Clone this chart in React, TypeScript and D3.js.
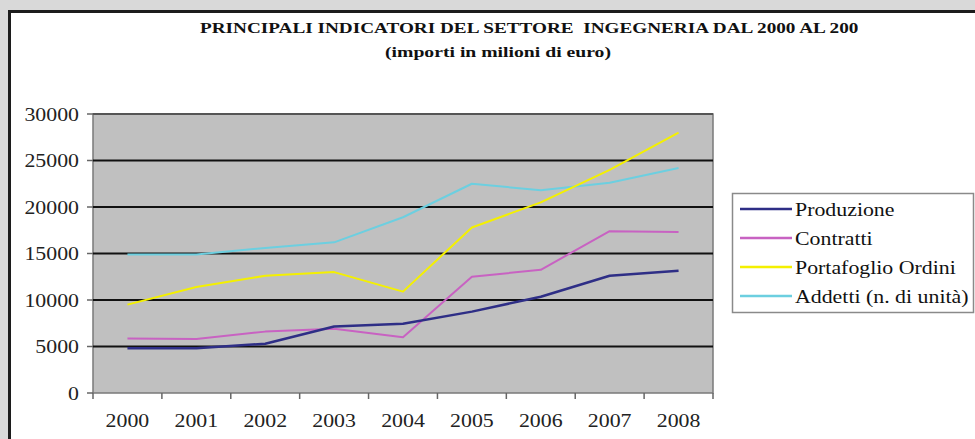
import React, { useEffect, useRef } from 'react';
import * as d3 from 'd3';

const years = ['2000', '2001', '2002', '2003', '2004', '2005', '2006', '2007', '2008'];
const produzione = [4800, 4800, 5300, 7150, 7450, 8750, 10350, 12600, 13150];
const contratti = [5850, 5800, 6600, 6900, 6000, 12500, 13250, 17400, 17300];
const portafoglio = [9500, 11400, 12600, 13000, 10900, 17800, 20500, 24000, 28000];
const addetti = [14900, 14900, 15600, 16200, 18900, 22500, 21800, 22600, 24200];
const yTicks = [0, 5000, 10000, 15000, 20000, 25000, 30000];
const seriesNames = ['Produzione', 'Contratti', 'Portafoglio Ordini', 'Addetti (n. di unità)'];
const seriesColors = ['#2e2e86', '#c862c2', '#f4f000', '#6ccfe0'];

const W = 975;
const H = 439;
const FONT = 'Liberation Serif, serif';

const App: React.FC = () => {
  const svgRef = useRef<SVGSVGElement>(null);

  useEffect(() => {
    if (!svgRef.current) return;
    document.body.style.margin = '0';

    const svg = d3.select(svgRef.current);
    svg.selectAll('*').remove();

    const plot = { left: 93, right: 713, top: 114, bottom: 393 };

    // Page background and white panel
    svg.append('rect').attr('width', W).attr('height', H).attr('fill', '#d9d9d9');
    svg.append('rect')
      .attr('x', 9.5).attr('y', 11.5)
      .attr('width', W + 20).attr('height', H + 20)
      .attr('fill', '#ffffff')
      .attr('stroke', '#1c1c1c')
      .attr('stroke-width', 3);

    // Title (clipped on the right like the original)
    svg.append('clipPath').attr('id', 'titleClip')
      .append('rect').attr('x', 0).attr('y', 0).attr('width', 858).attr('height', 45);

    svg.append('text')
      .attr('clip-path', 'url(#titleClip)')
      .attr('x', 200).attr('y', 33)
      .attr('textLength', 668)
      .attr('lengthAdjust', 'spacingAndGlyphs')
      .attr('font-family', FONT)
      .attr('font-size', 15)
      .attr('font-weight', 'bold')
      .attr('fill', '#111')
      .style('white-space', 'pre')
      .text('PRINCIPALI INDICATORI DEL SETTORE  INGEGNERIA DAL 2000 AL 2008');

    svg.append('text')
      .attr('x', 385).attr('y', 57)
      .attr('textLength', 226)
      .attr('lengthAdjust', 'spacingAndGlyphs')
      .attr('font-family', FONT)
      .attr('font-size', 15)
      .attr('font-weight', 'bold')
      .attr('fill', '#111')
      .text('(importi in milioni di euro)');

    const x = d3.scaleBand<string>()
      .domain(years)
      .range([plot.left, plot.right])
      .padding(0);

    const y = d3.scaleLinear()
      .domain([0, 30000])
      .range([plot.bottom, plot.top]);

    // Plot area
    svg.append('rect')
      .attr('x', plot.left).attr('y', plot.top)
      .attr('width', plot.right - plot.left)
      .attr('height', plot.bottom - plot.top)
      .attr('fill', '#c0c0c0')
      .attr('stroke', '#7a7a7a')
      .attr('stroke-width', 1.5);

    // Grid lines
    svg.append('g')
      .selectAll('line')
      .data(yTicks.filter(d => d > 0))
      .enter()
      .append('line')
      .attr('x1', plot.left)
      .attr('x2', plot.right)
      .attr('y1', d => y(d))
      .attr('y2', d => y(d))
      .attr('stroke', d => (d === 30000 ? '#555' : '#111'))
      .attr('stroke-width', 2);

    // Y axis ticks + labels
    const yAxis = svg.append('g');
    yAxis.selectAll('line')
      .data(yTicks)
      .enter()
      .append('line')
      .attr('x1', plot.left - 6)
      .attr('x2', plot.left)
      .attr('y1', d => y(d))
      .attr('y2', d => y(d))
      .attr('stroke', '#666')
      .attr('stroke-width', 1.5);

    yAxis.selectAll('text')
      .data(yTicks)
      .enter()
      .append('text')
      .attr('transform', d => `translate(79,${y(d) + 6.5}) scale(1.15,1)`)
      .attr('text-anchor', 'end')
      .attr('font-family', FONT)
      .attr('font-size', 19)
      .attr('fill', '#222')
      .text(d => String(d));

    // X axis ticks + labels
    const xAxis = svg.append('g');
    xAxis.selectAll('line')
      .data([...years.map(d => x(d) as number), plot.right])
      .enter()
      .append('line')
      .attr('x1', d => d)
      .attr('x2', d => d)
      .attr('y1', plot.bottom)
      .attr('y2', plot.bottom + 6)
      .attr('stroke', '#666')
      .attr('stroke-width', 1.5);

    xAxis.selectAll('text')
      .data(years)
      .enter()
      .append('text')
      .attr('transform', d => `translate(${(x(d) as number) + x.bandwidth() / 2},427) scale(1.15,1)`)
      .attr('text-anchor', 'middle')
      .attr('font-family', FONT)
      .attr('font-size', 19)
      .attr('fill', '#222')
      .text(d => d);

    // Lines
    const allSeries = [produzione, contratti, portafoglio, addetti];
    const line = d3.line<number>()
      .x((_, i) => (x(years[i]) as number) + x.bandwidth() / 2)
      .y(d => y(d));

    // draw in reverse so navy sits on top, as in the original
    [3, 2, 1, 0].forEach(si => {
      svg.append('path')
        .datum(allSeries[si])
        .attr('fill', 'none')
        .attr('stroke', seriesColors[si])
        .attr('stroke-width', si === 0 ? 2.5 : 2)
        .attr('stroke-linejoin', 'round')
        .attr('d', line);
    });

    // Legend
    const legend = svg.append('g');
    legend.append('rect')
      .attr('x', 732.5).attr('y', 193.5)
      .attr('width', 241).attr('height', 119)
      .attr('fill', '#ffffff')
      .attr('stroke', '#8a8a8a')
      .attr('stroke-width', 1.5);

    seriesNames.forEach((name, i) => {
      const ry = 209 + i * 29;
      legend.append('line')
        .attr('x1', 740).attr('x2', 792)
        .attr('y1', ry).attr('y2', ry)
        .attr('stroke', seriesColors[i])
        .attr('stroke-width', 2.5);
      legend.append('text')
        .attr('transform', `translate(795,${ry + 6.5}) scale(1.15,1)`)
        .attr('font-family', FONT)
        .attr('font-size', 19)
        .attr('fill', '#111')
        .text(name);
    });
  }, []);

  return (
    <svg
      ref={svgRef}
      width={W}
      height={H}
      style={{ display: 'block', position: 'absolute', left: 0, top: 0 }}
    />
  );
};

export default App;
